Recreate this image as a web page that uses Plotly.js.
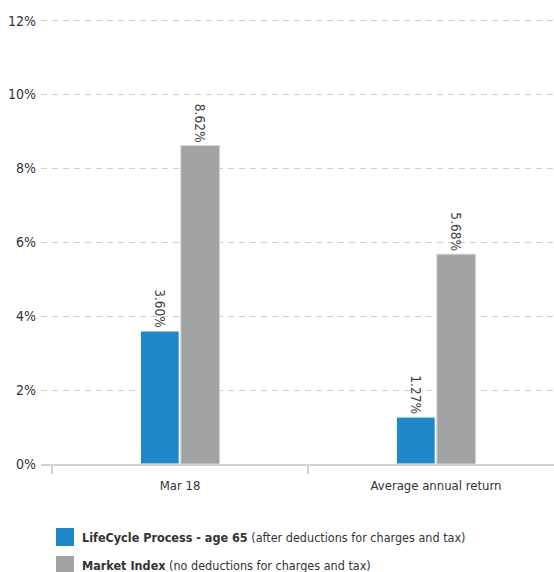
<!DOCTYPE html>
<html>
<head>
<meta charset="utf-8">
<script src="https://cdn.plot.ly/plotly-3.0.1.min.js"></script>
<style>html,body{margin:0;padding:0;background:#fff;}#chart{width:554px;height:572px;}</style>
</head>
<body>
<div id="chart"></div>
<script>
const categories = ["Mar 18", "Average annual return"];
const lifecycleValues = [3.60, 1.27];
const marketValues = [8.62, 5.68];
const lifecycleLabels = ["3.60%", "1.27%"];
const marketLabels = ["8.62%", "5.68%"];
const seriesNamesBold = ["LifeCycle Process - age 65", "Market Index"];
const seriesNamesRest = [" (after deductions for charges and tax)", " (no deductions for charges and tax)"];
const seriesColors = ["#1e88c9", "#a2a3a5"];
const yTickVals = [0, 2, 4, 6, 8, 10, 12];
const yTickText = ["0%", "2%", "4%", "6%", "8%", "10%", "12%"];

const W = 554, H = 572;
const M = {l: 41, r: 0, t: 17, b: 108};
const plotH = H - M.t - M.b;
const plotW = W - M.l - M.r;
const py = p => (H - M.b - p) / plotH;      // pixel y -> paper y
const px = p => (p - M.l) / plotW;          // pixel x -> paper x

const FAM = "'DejaVu Sans Condensed', 'DejaVu Sans', sans-serif";
const textFont = {family: FAM, size: 14, color: "#444"};

const traces = [
  {type: "bar", x: categories, y: lifecycleValues, text: lifecycleLabels, name: seriesNamesBold[0],
   marker: {color: seriesColors[0], line: {color: "#ffffff", width: 1}},
   textposition: "outside", textangle: 90, textfont: textFont, cliponaxis: false, hoverinfo: "none", showlegend: false},
  {type: "bar", x: categories, y: marketValues, text: marketLabels, name: seriesNamesBold[1],
   marker: {color: seriesColors[1], line: {color: "#d6d6d6", width: 1}},
   textposition: "outside", textangle: 90, textfont: textFont, cliponaxis: false, hoverinfo: "none", showlegend: false}
];

const shapes = [];
const annotations = [];
const legendRows = [537, 565];
seriesColors.forEach((c, i) => {
  const cy = legendRows[i];
  shapes.push({type: "rect", xref: "paper", yref: "paper",
    x0: px(56), x1: px(74), y0: py(cy - 9), y1: py(cy + 9),
    fillcolor: c, line: {width: 0}});
  annotations.push({xref: "paper", yref: "paper", x: px(80), y: py(cy), xanchor: "left", yanchor: "middle",
    showarrow: false, align: "left",
    text: "<b>" + seriesNamesBold[i] + "</b>" + seriesNamesRest[i],
    font: {family: FAM, size: 12.5, color: "#333"}});
});

const layout = {
  width: W, height: H,
  margin: M,
  paper_bgcolor: "#fff", plot_bgcolor: "#fff",
  showlegend: false,
  barmode: "group",
  bargap: 0.684,
  bargroupgap: 0.04,
  font: {family: FAM, size: 14, color: "#333"},
  xaxis: {
    type: "category",
    range: [-0.543, 1.461],
    showgrid: false, zeroline: false,
    showline: true, linecolor: "#d2d2d2", linewidth: 2,
    ticks: "outside", tickson: "boundaries", ticklen: 8, tickcolor: "#d2d2d2", tickwidth: 2,
    ticklabelstandoff: 8,
    tickfont: {family: FAM, size: 13, color: "#333"},
    fixedrange: true
  },
  yaxis: {
    range: [0, 12.1],
    tickvals: yTickVals, ticktext: yTickText,
    showgrid: true, gridcolor: "#cfcfcf", gridwidth: 1, griddash: "6px,5px",
    zeroline: false, showline: false, ticks: "", ticklabelstandoff: 4,
    tickfont: {family: FAM, size: 14, color: "#333"},
    fixedrange: true
  },
  shapes: shapes,
  annotations: annotations
};

Plotly.newPlot("chart", traces, layout, {displayModeBar: false, staticPlot: true});
</script>
</body>
</html>
